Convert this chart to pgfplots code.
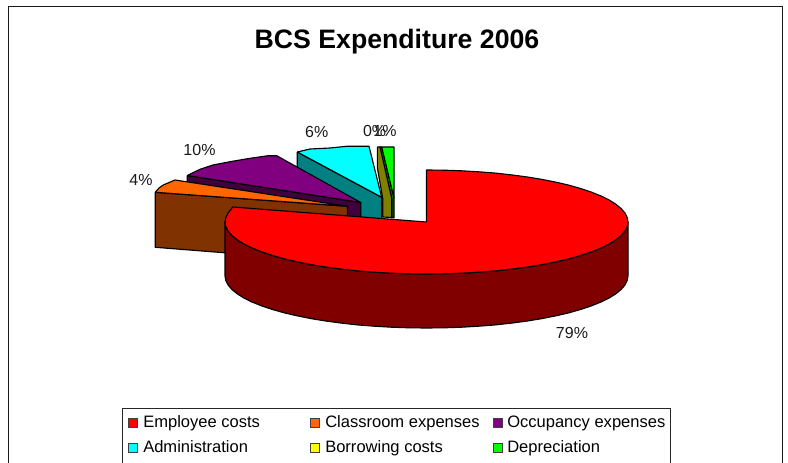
\documentclass[border=0pt]{standalone}
\usepackage{pgfplots}
\pgfplotsset{compat=1.18}
\usepackage{fontspec}
\setmainfont{Liberation Sans}
\definecolor{cRed}{RGB}{255,0,0}
\definecolor{cCyan}{RGB}{0,255,255}
\definecolor{cYellow}{RGB}{255,255,0}
\definecolor{cOrange}{HTML}{FF6600}
\definecolor{cBrown}{HTML}{803300}
\definecolor{cPurple}{HTML}{800080}
\definecolor{cDPurple}{HTML}{400040}
\definecolor{cTeal}{HTML}{008080}
\definecolor{cOlive}{HTML}{808000}
\definecolor{cDGreen}{HTML}{008000}
\definecolor{cLime}{HTML}{00FF00}
\definecolor{cDRed}{HTML}{800000}
\definecolor{cFrame}{HTML}{1A1A1A}
\pgfplotsset{slice/.style={fill=#1,draw=black,line width=0.85pt,line join=round,mark=none},
 swatch/.style={fill=#1,draw=black!75,line width=0.7pt,mark=none}}
\newcommand{\lab}[3]{\node[font=\fontsize{12}{14}\selectfont,text=black!90,inner sep=0pt] at (axis cs:#1,#2) {#3};}
\newcommand{\leg}[3]{\node[font=\fontsize{12.4}{14}\selectfont,text=black,inner sep=0pt,anchor=base west] at (axis cs:#1,#2) {#3};}
\begin{document}
\begin{tikzpicture}
\begin{axis}[scale only axis,width=591pt,height=347.25pt,xmin=0,xmax=788,ymin=0,ymax=463,y dir=reverse,hide axis,clip=true]
% page extent
\addplot[draw=none,mark=none] coordinates {(0,0)(788,463)};
% frame
\addplot[cFrame,line width=1.3pt,mark=none] coordinates {(8.5,463)(8.5,6.5)(782.5,6.5)(782.5,463)};
% legend box
\addplot[black!85,line width=0.7pt,mark=none] coordinates {(122.5,463)(122.5,408)(670,408)(670,463)};
% depreciation
\addplot[slice=cDGreen] coordinates {(379.5,147)(381.7,147)(394,198)(394,217.8)(391.7,217.8)(391.7,198.3)(379.5,147)};
\addplot[slice=cLime] coordinates {(381.7,147)(394,147)(394,198)(381.7,147)};
% borrowing costs
\addplot[slice=cOlive] coordinates {(377.4,147)(380,147)(391.7,198.3)(391.7,217.5)(382.7,217)(382.7,198.3)(377.4,168)(377.4,147)};
% administration
\addplot[slice=cTeal] coordinates {(297.3,152)(381.7,197.3)(381.7,219)(350,219)(297.3,175)(297.3,152)};
\addplot[slice=cCyan] coordinates {(297.3,152)(310,149)(330,148)(346.7,146.3)(369,146.3)(381.7,197.3)(297.3,152)};
% occupancy expenses
\addplot[slice=cDPurple] coordinates {(187.3,175.5)(360.7,202.5)(360.7,219)(345,219)(187.3,190)(187.3,175.5)};
\addplot[slice=cPurple] coordinates {(187.3,175.5)(200,169.3)(213,165)(230,161.7)(250,158.3)(268.3,155.7)(276.7,155.7)(360.7,202.5)(187.3,175.5)};
% classroom expenses
\addplot[slice=cBrown] coordinates {(155.3,192.3)(347.5,206.3)(347.5,222)(240,254)(155.3,247.3)(155.3,192.3)};
\addplot[slice=cOrange] coordinates {(155.3,192.3)(159,188)(163.3,185)(175,180)(347.5,206.3)(155.3,192.3)};
% employee costs: side
\addplot[slice=cDRed] coordinates {(628,222)(627.2,226.5)(624.9,231)(621.1,235.5)(615.8,239.8)(609.1,244)(601,248)(591.6,251.8)(580.8,255.4)(569,258.8)(556,261.8)(542.1,264.6)(527.3,267)(511.7,269.1)(495.4,270.9)(478.6,272.2)(461.5,273.2)(444.1,273.8)(426.5,274)(408.9,273.8)(391.5,273.2)(374.4,272.2)(357.6,270.9)(341.3,269.1)(325.7,267)(310.9,264.6)(297,261.8)(284,258.8)(272.2,255.4)(261.4,251.8)(252,248)(243.9,244)(237.2,239.8)(231.9,235.5)(228.1,231)(225.8,226.5)(225,222)
(225,276)(225.8,280.5)(228.1,285)(231.9,289.5)(237.2,293.8)(243.9,298)(252,302)(261.4,305.8)(272.2,309.4)(284,312.8)(297,315.8)(310.9,318.6)(325.7,321)(341.3,323.1)(357.6,324.9)(374.4,326.2)(391.5,327.2)(408.9,327.8)(426.5,328)(444.1,327.8)(461.5,327.2)(478.6,326.2)(495.4,324.9)(511.7,323.1)(527.3,321)(542.1,318.6)(556,315.8)(569,312.8)(580.8,309.4)(591.6,305.8)(601,302)(609.1,298)(615.8,293.8)(621.1,289.5)(624.9,285)(627.2,280.5)(628,276)(628,222)};
% employee costs: top
\addplot[slice=cRed] coordinates {(426.5,222)(426.5,170)(444.1,170.2)(461.5,170.8)(478.6,171.8)(495.4,173.1)(511.7,174.9)(527.3,177)(542.1,179.4)(556,182.2)(569,185.2)(580.8,188.6)(591.6,192.2)(601,196)(609.1,200)(615.8,204.2)(621.1,208.5)(624.9,213)(627.2,217.5)(628,222)(627.2,226.5)(624.9,231)(621.1,235.5)(615.8,239.8)(609.1,244)(601,248)(591.6,251.8)(580.8,255.4)(569,258.8)(556,261.8)(542.1,264.6)(527.3,267)(511.7,269.1)(495.4,270.9)(478.6,272.2)(461.5,273.2)(444.1,273.8)(426.5,274)(408.9,273.8)(391.5,273.2)(374.4,272.2)(357.6,270.9)(341.3,269.1)(325.7,267)(310.9,264.6)(297,261.8)(284,258.8)(272.2,255.4)(261.4,251.8)(252,248)(243.9,244)(237.2,239.8)(231.9,235.5)(228.1,231)(225.8,226.5)(225,222)(225.8,217.5)(228.1,213)(232.7,207)(426.5,222)};
% legend swatches
\addplot[swatch=cRed] coordinates {(128.5,418)(137.5,418)(137.5,427)(128.5,427)(128.5,418)};
\addplot[swatch=cOrange] coordinates {(310.5,418)(319.5,418)(319.5,427)(310.5,427)(310.5,418)};
\addplot[swatch=cPurple] coordinates {(493.5,418)(502.5,418)(502.5,427)(493.5,427)(493.5,418)};
\addplot[swatch=cCyan] coordinates {(128.5,443)(137.5,443)(137.5,452)(128.5,452)(128.5,443)};
\addplot[swatch=cYellow] coordinates {(310.5,443)(319.5,443)(319.5,452)(310.5,452)(310.5,443)};
\addplot[swatch=cLime] coordinates {(493.5,443)(502.5,443)(502.5,452)(493.5,452)(493.5,443)};
\leg{143}{427.5}{Employee costs}
\leg{325}{427.5}{Classroom expenses}
\leg{507}{427.5}{Occupancy expenses}
\leg{143}{452.5}{Administration}
\leg{325}{452.5}{Borrowing costs}
\leg{507}{452.5}{Depreciation}
% labels
\node[font=\fontsize{20}{24}\selectfont\bfseries,inner sep=0pt] at (axis cs:397,42) {BCS Expenditure 2006};
\lab{141}{180}{4\%}
\lab{199.5}{150}{10\%}
\lab{316.7}{132}{6\%}
\lab{374.6}{130.5}{0\%}
\lab{385}{130.5}{1\%}
\lab{572}{333}{79\%}
\end{axis}
\end{tikzpicture}
\end{document}
